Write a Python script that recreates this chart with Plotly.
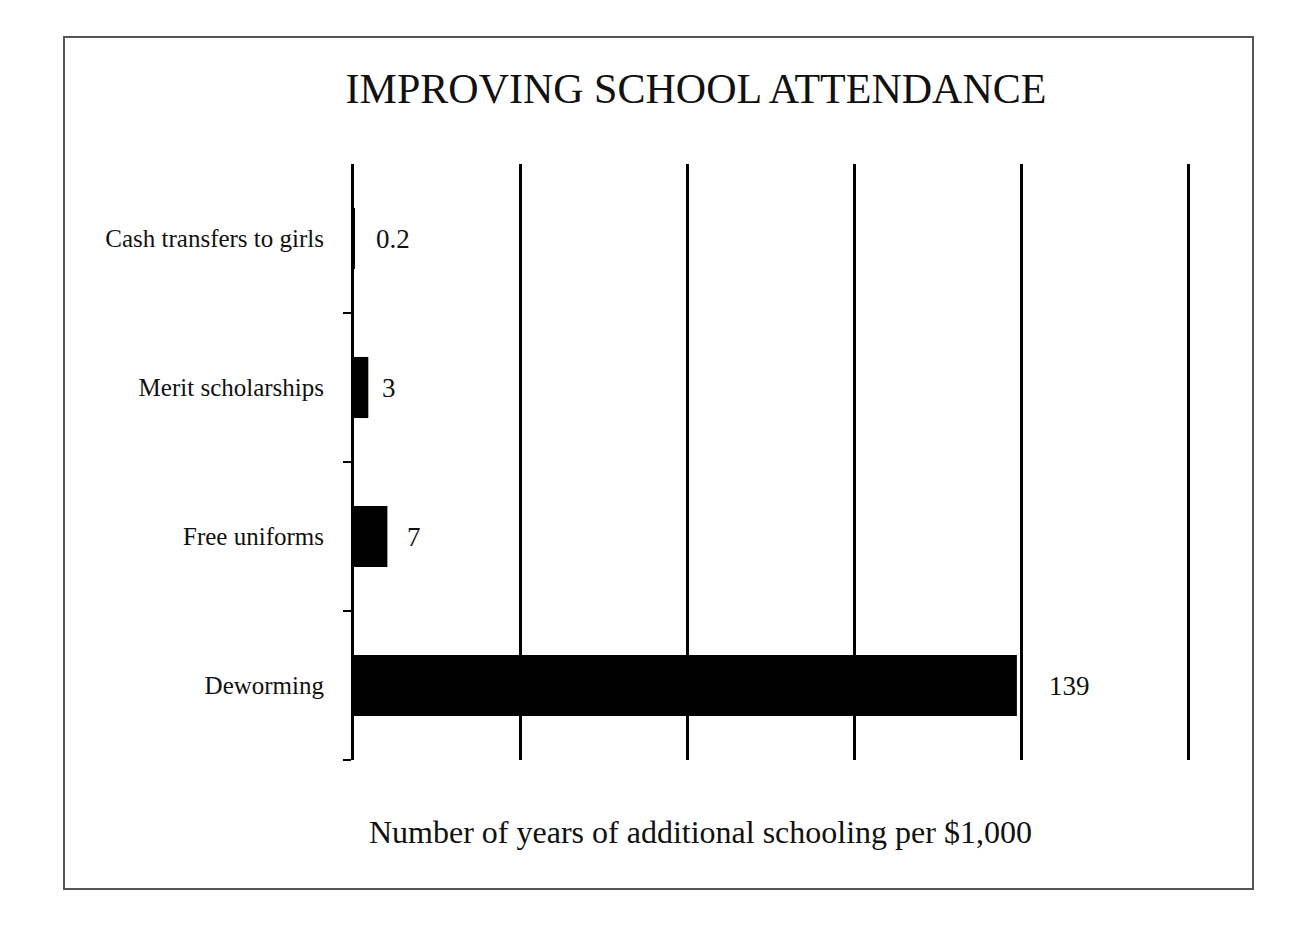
import plotly.graph_objects as go

# ---- data ----
categories = ["Cash transfers to girls", "Merit scholarships", "Free uniforms", "Deworming"]
values = [0.2, 3, 7, 139]
value_labels = ["0.2", "3", "7", "139"]
grid_ticks = [0, 35, 70, 105, 140, 175]

title_text = "IMPROVING SCHOOL ATTENDANCE"
xaxis_title = "Number of years of additional schooling per $1,000"

# ---- style / layout ----
label_shifts = [19, 12, 18, 30]
FONT = "Liberation Serif"
OFF = 8  # page body offset
W, H = 1300, 910
L, T = 354 - OFF, 164 - OFF
R = W - (1190 - OFF)
B = H - (760 - OFF)
pw, ph = W - L - R, H - T - B

def px_x(x):
    return (x - OFF - L) / pw

def px_y(y):
    return (H - B - (y - OFF)) / ph

ypos = list(range(len(categories)))

fig = go.Figure()
fig.add_trace(go.Bar(
    x=values, y=ypos, orientation="h",
    marker=dict(color="black", line=dict(width=0)),
    width=0.41, hoverinfo="skip",
))

for v, lab, yy, sh in zip(values, value_labels, ypos, label_shifts):
    fig.add_annotation(x=v, y=yy, text=lab, showarrow=False, xanchor="left",
                       yanchor="middle",
                       xshift=sh, font=dict(family=FONT, size=27, color="#111"))

# axis title as annotation
fig.add_annotation(x=px_x(700), y=px_y(832), xref="paper", yref="paper",
                   xanchor="center", yanchor="middle",
                   text=xaxis_title, showarrow=False,
                   font=dict(family=FONT, size=32, color="#111"))

# outer frame
fig.add_shape(type="rect", xref="paper", yref="paper",
              x0=px_x(64), x1=px_x(1253), y0=px_y(889), y1=px_y(37),
              line=dict(color="#555", width=2), fillcolor="rgba(0,0,0,0)", layer="below")

fig.update_layout(
    width=W, height=H,
    margin=dict(l=L, r=R, t=T, b=B),
    paper_bgcolor="white", plot_bgcolor="white",
    showlegend=False,
    title=dict(text=title_text, x=(696 - OFF) / W, xref="container", xanchor="center",
               y=1 - (88 - OFF) / H, yref="container", yanchor="middle",
               font=dict(family=FONT, size=42, color="#111")),
    xaxis=dict(range=[0, 175.3], tickvals=grid_ticks, showticklabels=False,
               showgrid=True, gridcolor="black", gridwidth=3,
               zeroline=False, showline=False, ticks=""),
    yaxis=dict(range=[len(categories) - 0.5, -0.5], tickvals=ypos, ticktext=categories,
               ticks="", showgrid=False, zeroline=False,
               showline=True, linecolor="black", linewidth=3,
               ticklabelstandoff=22,
               tickfont=dict(family=FONT, size=25, color="#111"),
               minor=dict(tickvals=[0.5, 1.5, 2.5, 3.5], ticks="outside",
                          ticklen=8, tickwidth=2, tickcolor="black", showgrid=False)),
)

fig.write_html("out.html")
